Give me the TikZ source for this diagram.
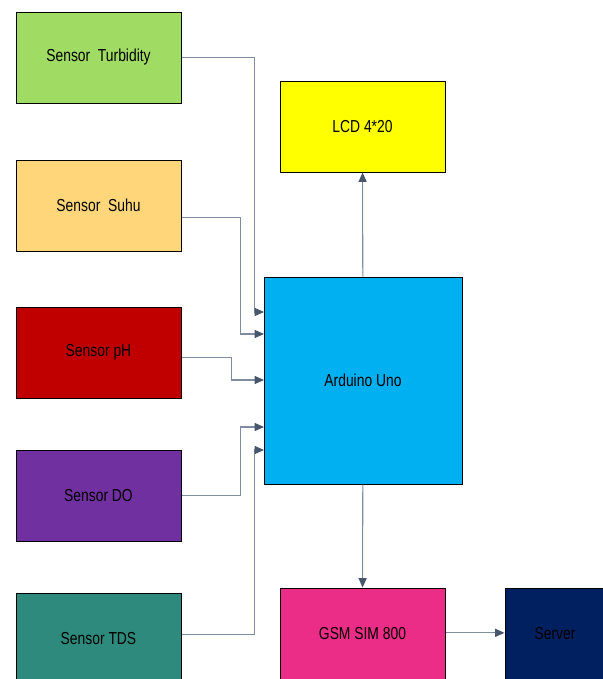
\documentclass[tikz,border=0pt]{standalone}
\usepackage{fontspec}
\usepackage{graphicx}
\setmainfont{Liberation Sans}
\usetikzlibrary{arrows.meta}
\definecolor{linec}{RGB}{128,140,160}
\definecolor{tipc}{RGB}{72,86,108}
\definecolor{turbc}{RGB}{160,220,100}
\definecolor{suhuc}{RGB}{255,215,122}
\definecolor{phc}{RGB}{192,0,0}
\definecolor{doc}{RGB}{112,48,160}
\definecolor{tdsc}{RGB}{46,138,124}
\definecolor{lcdc}{RGB}{255,255,0}
\definecolor{ardc}{RGB}{0,176,240}
\definecolor{gsmc}{RGB}{236,45,135}
\definecolor{servc}{RGB}{0,32,96}
\newcommand{\lbl}[1]{\scalebox{0.8}[1]{#1}}
\begin{document}
\begin{tikzpicture}[x=0.75pt,y=-0.75pt,
  blok/.style={draw=black,line width=0.75pt,minimum width=123.75pt,minimum height=68.25pt,
    inner sep=0pt,font=\fontsize{13}{15}\selectfont},
  link/.style={draw=linec,line width=0.8pt,-{Triangle[length=7pt,width=6pt,color=tipc]}},
  plain/.style={draw=linec,line width=0.8pt}]
  \useasboundingbox (0,0) rectangle (603,679);
  \clip (0,0) rectangle (603,679);

  \node[blok,fill=turbc] (turb) at (98.5,57.5) {\lbl{Sensor~~Turbidity}};
  \node[blok,fill=suhuc] (suhu) at (98.5,205.5) {\lbl{Sensor~~Suhu}};
  \node[blok,fill=phc] (ph) at (98.5,352.5) {\lbl{Sensor pH}};
  \node[blok,fill=doc] (do) at (98.5,495.5) {\lbl{Sensor DO}};
  \node[blok,fill=tdsc] (tds) at (98.5,638.5) {\lbl{Sensor TDS}};

  \node[blok,fill=lcdc] (lcd) at (362.5,126.5) {\lbl{LCD 4*20}};
  \node[blok,fill=ardc,minimum width=148.5pt,minimum height=155.25pt] (ard) at (363,380.5) {\lbl{Arduino Uno}};
  \node[blok,fill=gsmc] (gsm) at (362.5,633.5) {\lbl{GSM SIM 800}};
  \node[blok,fill=servc,minimum width=75pt] (serv) at (555,633.5) {\lbl{Server}};

  % entry points on the Arduino
  \coordinate (in1) at (264,312);
  \coordinate (in2) at (264,334);
  \coordinate (in3) at (264,380);
  \coordinate (in4) at (264,427);
  \coordinate (in5) at (264,450);

  \draw[link] (turb.east) -- ++(73,0) |- (in1);
  \draw[link] ([yshift=-9pt]suhu.east) -- ++(59,0) |- (in2);
  \draw[link] ([yshift=-3.5pt]ph.east) -- ++(50,0) |- (in3);
  \draw[link] (do.east) -- ++(59,0) |- (in4);
  \draw[link] ([yshift=3pt]tds.east) -- ++(73,0) |- (in5);

  \draw[link] (ard) to (lcd);
  \draw[link] (ard) to (gsm);
  \draw[link] ([yshift=0.5pt]gsm.east) to ([yshift=0.5pt]serv.west);
\end{tikzpicture}
\end{document}
